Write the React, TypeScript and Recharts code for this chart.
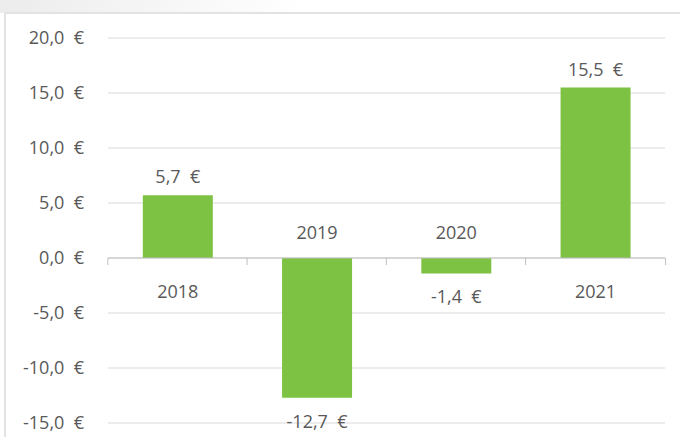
import { BarChart, Bar, XAxis, YAxis, CartesianGrid, ReferenceLine, LabelList } from "recharts";

const years = ["2018", "2019", "2020", "2021"];
const results = [5.7, -12.7, -1.4, 15.5];
const yTicks = [-15, -10, -5, 0, 5, 10, 15, 20];

const data = years.map((year, i) => ({ year, value: results[i] }));

const TEXT = "#595959";
const FONT = "'Open Sans', sans-serif";

const euro = (v: number) => v.toFixed(1).replace(".", ",") + "\u00a0\u00a0€";

// value label above positive bars, below negative ones
const ValueLabel = (props: any) => {
  const { x, y, width, height, value } = props;
  const top = Math.min(y, y + height);
  const bottom = Math.max(y, y + height);
  const cx = x + width / 2;
  const ty = value >= 0 ? top - 19 : bottom + 23;
  return (
    <text x={cx} y={ty} textAnchor="middle" dominantBaseline="central" fill={TEXT} fontSize={18} fontFamily={FONT}>
      {euro(value)}
    </text>
  );
};

// year label on the other side of the zero line, plus the small axis ticks
const YearLabel = (props: any) => {
  const { x, y, width, height, index } = props;
  const value = results[index];
  const zero = y + height;
  const cx = x + width / 2;
  const ty = value >= 0 ? zero + 33 : zero - 26;
  const left = x - width / 2;
  const right = x + width * 1.5;
  return (
    <g>
      <line x1={left} x2={left} y1={zero} y2={zero + 7} stroke="#bfbfbf" />
      {index === years.length - 1 && <line x1={right} x2={right} y1={zero} y2={zero + 7} stroke="#bfbfbf" />}
      <text x={cx} y={ty} textAnchor="middle" dominantBaseline="central" fill={TEXT} fontSize={18} fontFamily={FONT}>
        {years[index]}
      </text>
    </g>
  );
};

export default function App() {
  return (
    <div style={{ position: "fixed", left: 0, top: 0, width: 680, height: 437, background: "#fff", overflow: "hidden" }}>
      <div
        style={{
          position: "absolute",
          left: 0,
          top: 0,
          width: 680,
          height: 13,
          background: "linear-gradient(to right, #ececec, #ffffff 45%)",
        }}
      />
      <div
        style={{
          position: "absolute",
          left: 4,
          top: 12,
          width: 680,
          height: 430,
          borderTop: "2px solid #e3e3e3",
          borderLeft: "2px solid #e3e3e3",
        }}
      />
      <div style={{ position: "absolute", left: 0, top: 0 }}>
        <BarChart
          width={680}
          height={437}
          data={data}
          margin={{ top: 38, right: 15, bottom: 14, left: 0 }}
          barCategoryGap="25%"
        >
          <CartesianGrid vertical={false} stroke="#d9d9d9" />
          <XAxis dataKey="year" hide />
          <YAxis
            domain={[-15, 20]}
            ticks={yTicks}
            width={108}
            axisLine={false}
            tickLine={false}
            tickSize={0}
            tickMargin={24}
            tickFormatter={(v: number) => euro(v)}
            tick={{ fill: TEXT, fontSize: 18, fontFamily: FONT }}
          />
          <ReferenceLine y={0} stroke="#bfbfbf" />
          <Bar dataKey="value" fill="#7dc243" isAnimationActive={false}>
            <LabelList dataKey="value" content={ValueLabel} />
            <LabelList dataKey="value" content={YearLabel} />
          </Bar>
        </BarChart>
      </div>
    </div>
  );
}
